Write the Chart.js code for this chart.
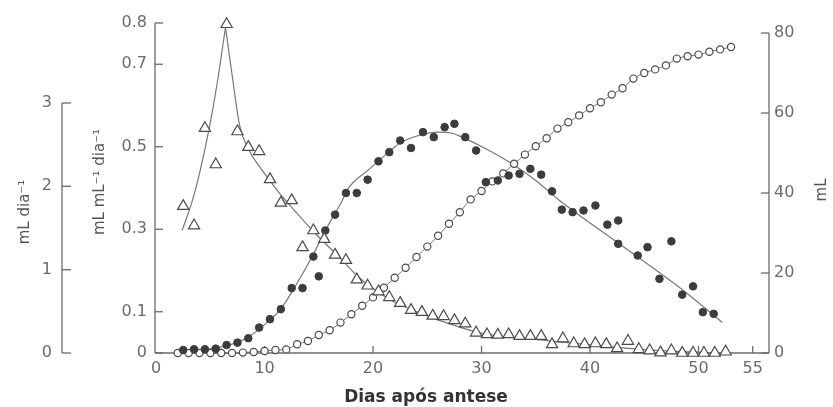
<!DOCTYPE html>
<html lang="pt">
  <head>
    <meta charset="UTF-8" />
    <title>Crescimento do fruto</title>
    <script src="https://cdn.jsdelivr.net/npm/chart.js"></script>
    <style>
      * {
        margin: 0;
        padding: 0;
        box-sizing: border-box;
      }

      body {
        background: #ffffff;
      }

      .chart-box {
        width: 833px;
        height: 407px;
      }
    </style>
  </head>
  <body>
    <div class="chart-box">
      <canvas id="growthChart"></canvas>
    </div>

    <script>
      // Volume (mL), open circles, right axis
      const volumeDays = [
        2, 3, 4, 5, 6, 7, 8, 9, 10, 11, 12, 13, 14, 15, 16, 17, 18, 19, 20, 21,
        22, 23, 24, 25, 26, 27, 28, 29, 30, 31, 32, 33, 34, 35, 36, 37, 38, 39,
        40, 41, 42, 43, 44, 45, 46, 47, 48, 49, 50, 51, 52, 53,
      ];
      const volumeML = [
        0, 0, 0, 0, 0, 0, 0.1, 0.25, 0.5, 0.75, 0.9, 2.2, 3.0, 4.5, 5.7, 7.6,
        9.7, 11.8, 13.9, 16.3, 18.8, 21.3, 24.0, 26.6, 29.3, 32.3, 35.2, 38.4,
        40.5, 42.9, 44.9, 47.3, 49.6, 51.7, 53.7, 56.1, 57.7, 59.4, 61.2, 62.7,
        64.6, 66.2, 68.6, 70.0, 70.9, 71.9, 73.6, 74.2, 74.6, 75.3, 75.9, 76.5,
      ];

      // Relative growth rate (mL mL-1 dia-1), triangles, inner left axis
      const rgrDays = [
        2.5, 3.5, 4.5, 5.5, 6.5, 7.5, 8.5, 9.5, 10.5, 11.5, 12.5, 13.5, 14.5,
        15.5, 16.5, 17.5, 18.5, 19.5, 20.5, 21.5, 22.5, 23.5, 24.5, 25.5, 26.5,
        27.5, 28.5, 29.5, 30.5, 31.5, 32.5, 33.5, 34.5, 35.5, 36.5, 37.5, 38.5,
        39.5, 40.5, 41.5, 42.5, 43.5, 44.5, 45.5, 46.5, 47.5, 48.5, 49.5, 50.5,
        51.5, 52.5,
      ];
      const rgrValues = [
        0.356, 0.309, 0.545, 0.457, 0.797, 0.537, 0.499, 0.489, 0.421, 0.364,
        0.37, 0.256, 0.297, 0.276, 0.238, 0.225, 0.178, 0.163, 0.149, 0.135,
        0.121, 0.104, 0.099, 0.09, 0.089, 0.079, 0.071, 0.049, 0.045, 0.044,
        0.045, 0.041, 0.041, 0.041, 0.021, 0.035, 0.023, 0.021, 0.023, 0.021,
        0.011, 0.029, 0.009, 0.006, 0.001, 0.006, 0, 0, 0, 0, 0.003,
      ];
      const rgrRiseDays = [2.4, 3.35, 4.0, 4.9, 5.65, 6.4];
      const rgrRiseValues = [0.297, 0.37, 0.435, 0.545, 0.657, 0.79];
      const rgrFallDays = [
        6.4, 7.05, 7.7, 8.5, 9.55, 10.6, 11.6, 12.6, 14.7, 16.9, 18.7, 21.8,
        24.2, 28.2, 30.4, 36.5, 42.7, 47.0, 52.0,
      ];
      const rgrFallValues = [
        0.79, 0.666, 0.552, 0.495, 0.451, 0.414, 0.38, 0.35, 0.289, 0.232,
        0.183, 0.126, 0.098, 0.061, 0.046, 0.029, 0.013, 0.005, 0.0,
      ];

      // Absolute growth rate (mL dia-1), filled circles, outer left axis
      const agrDays = [
        2.5, 3.5, 4.5, 5.5, 6.5, 7.5, 8.5, 9.5, 10.5, 11.5, 12.5, 13.5, 14.5,
        15.0, 15.6, 16.5, 17.5, 18.5, 19.5, 20.5, 21.5, 22.5, 23.5, 24.6, 25.6,
        26.6, 27.5, 28.5, 29.5, 30.4, 31.5, 32.5, 33.5, 34.5, 35.5, 36.5, 37.4,
        38.4, 39.4, 40.5, 41.6, 42.6, 42.6, 44.4, 45.3, 46.4, 47.5, 48.5, 49.5,
        50.4, 51.4,
      ];
      const agrValues = [
        0.036, 0.045, 0.045, 0.052, 0.096, 0.124, 0.177, 0.305, 0.406, 0.526,
        0.779, 0.779, 1.157, 0.92, 1.47, 1.66, 1.92, 1.92, 2.08, 2.3, 2.41,
        2.55, 2.46, 2.65, 2.59, 2.71, 2.75, 2.59, 2.43, 2.05, 2.07, 2.13, 2.15,
        2.21, 2.14, 1.94, 1.72, 1.69, 1.71, 1.77, 1.54, 1.59, 1.31, 1.17, 1.27,
        0.89, 1.34, 0.7, 0.8, 0.49, 0.47,
      ];
      const agrCurveDays = [
        2.1, 4.0, 6.4, 8.4, 10.4, 11.5, 12.6, 14.4, 15.6, 17.0, 17.8, 19.6,
        20.9, 22.5, 24.2, 26.0, 27.2, 28.2, 30.4, 32.8, 35.0, 37.1, 42.7, 48.8,
        52.2,
      ];
      const agrCurveValues = [
        0.024, 0.035, 0.084, 0.184, 0.386, 0.53, 0.75, 1.16, 1.47, 1.79, 1.99,
        2.2, 2.35, 2.52, 2.61, 2.65, 2.64, 2.59, 2.45, 2.27, 2.07, 1.84, 1.31,
        0.73, 0.365,
      ];

      // Tick labels
      const xTicks = [0, 10, 20, 30, 40, 50, 55];
      const rgrTicks = [0, 0.1, 0.3, 0.5, 0.7, 0.8];
      const agrTicks = [0, 1, 2, 3];
      const volumeTicks = [0, 20, 40, 60, 80];

      const toPoints = (xs, ys) => xs.map((x, i) => ({ x: x, y: ys[i] }));
      const setTicks = (list) => (scale) => {
        scale.ticks = list.map((v) => ({ value: v }));
      };

      const axisColor = "#6b6b6b";
      const markColor = "#4a4a4a";
      const tickFont = { family: "DejaVu Sans", size: 16 };

      // Axis lines, inward tick marks and axis titles
      const axisFrame = {
        id: "axisFrame",
        beforeDatasetsDraw(chart) {
          const { ctx, chartArea: a, scales } = chart;
          const line = (x1, y1, x2, y2) => {
            ctx.beginPath();
            ctx.moveTo(x1, y1);
            ctx.lineTo(x2, y2);
            ctx.stroke();
          };
          ctx.save();
          ctx.strokeStyle = axisColor;
          ctx.lineWidth = 1.3;

          // x axis
          line(a.left, a.bottom, a.right, a.bottom);
          xTicks.forEach((v) => {
            if (v === 0) return;
            const px = scales.x.getPixelForValue(v);
            line(px, a.bottom, px, a.bottom - 7);
          });

          // inner left axis
          const yr = scales.yRgr;
          line(a.left, yr.getPixelForValue(0), a.left, yr.getPixelForValue(0.8));
          rgrTicks.forEach((v) => {
            const py = yr.getPixelForValue(v);
            line(a.left, py, a.left + 8, py);
          });

          // outer left axis, drawn only from 0 to 3
          const ya = scales.yAgr;
          const ox = ya.right;
          line(ox, ya.getPixelForValue(0), ox, ya.getPixelForValue(3));
          agrTicks.forEach((v) => {
            const py = ya.getPixelForValue(v);
            line(ox, py, ox + 9, py);
          });

          // right axis
          const yv = scales.yVol;
          line(a.right, yv.getPixelForValue(0), a.right, yv.getPixelForValue(80));
          volumeTicks.forEach((v) => {
            const py = yv.getPixelForValue(v);
            line(a.right, py, a.right - 8, py);
          });

          // titles
          const vText = (text, x, y) => {
            ctx.save();
            ctx.translate(x, y);
            ctx.rotate(-Math.PI / 2);
            ctx.fillText(text, 0, 0);
            ctx.restore();
          };
          ctx.fillStyle = "#555555";
          ctx.textAlign = "center";
          ctx.textBaseline = "middle";
          ctx.font = '15px "DejaVu Sans"';
          vText("mL dia⁻¹", 25, 212);
          vText("mL mL⁻¹ dia⁻¹", 100, 182);
          vText("mL", 822, 190);
          ctx.fillStyle = "#333333";
          ctx.font = 'bold 17px "DejaVu Sans"';
          ctx.fillText("Dias após antese", 426, 398);
          ctx.restore();
        },
      };

      new Chart(document.getElementById("growthChart"), {
        type: "scatter",
        data: {
          datasets: [
            {
              label: "Taxa de crescimento relativo",
              data: toPoints(rgrDays, rgrValues),
              yAxisID: "yRgr",
              pointStyle: "triangle",
              pointRadius: 6.5,
              pointBackgroundColor: "#ffffff",
              pointBorderColor: markColor,
              pointBorderWidth: 1.2,
              clip: false,
              order: 1,
            },
            {
              label: "TCR ajuste (subida)",
              data: toPoints(rgrRiseDays, rgrRiseValues),
              yAxisID: "yRgr",
              showLine: true,
              pointRadius: 0,
              borderColor: "#777777",
              borderWidth: 1.2,
              cubicInterpolationMode: "monotone",
              clip: false,
              order: 3,
            },
            {
              label: "TCR ajuste (queda)",
              data: toPoints(rgrFallDays, rgrFallValues),
              yAxisID: "yRgr",
              showLine: true,
              pointRadius: 0,
              borderColor: "#777777",
              borderWidth: 1.2,
              cubicInterpolationMode: "monotone",
              clip: false,
              order: 3,
            },
            {
              label: "Taxa de crescimento absoluto",
              data: toPoints(agrDays, agrValues),
              yAxisID: "yAgr",
              pointStyle: "circle",
              pointRadius: 3.8,
              pointBackgroundColor: "#3c3c3c",
              pointBorderColor: "#3c3c3c",
              pointBorderWidth: 1,
              clip: false,
              order: 1,
            },
            {
              label: "TCA ajuste",
              data: toPoints(agrCurveDays, agrCurveValues),
              yAxisID: "yAgr",
              showLine: true,
              pointRadius: 0,
              borderColor: "#777777",
              borderWidth: 1.2,
              cubicInterpolationMode: "monotone",
              clip: false,
              order: 3,
            },
            {
              label: "Volume",
              data: toPoints(volumeDays, volumeML),
              yAxisID: "yVol",
              showLine: true,
              borderColor: "#777777",
              borderWidth: 1,
              cubicInterpolationMode: "monotone",
              pointStyle: "circle",
              pointRadius: 3.6,
              pointBackgroundColor: "#ffffff",
              pointBorderColor: markColor,
              pointBorderWidth: 1.2,
              clip: false,
              order: 2,
            },
          ],
        },
        options: {
          responsive: true,
          maintainAspectRatio: false,
          animation: false,
          layout: { padding: { top: 23, left: 0, right: 0, bottom: 0 } },
          scales: {
            x: {
              type: "linear",
              min: -0.1,
              max: 56.5,
              afterBuildTicks: setTicks(xTicks),
              afterFit: (s) => {
                s.height = 54;
              },
              grid: { display: false, drawTicks: false },
              border: { display: false },
              ticks: {
                autoSkip: false,
                maxRotation: 0,
                padding: 6,
                color: axisColor,
                font: tickFont,
                callback: (v) => String(v),
              },
            },
            yRgr: {
              position: "left",
              weight: 0,
              min: 0,
              max: 0.8,
              afterBuildTicks: setTicks(rgrTicks),
              afterFit: (s) => {
                s.width = 93;
              },
              grid: { display: false, drawTicks: false },
              border: { display: false },
              ticks: {
                autoSkip: false,
                padding: 8,
                color: axisColor,
                font: tickFont,
                callback: (v) => (v === 0 ? "0" : v.toFixed(1)),
              },
            },
            yAgr: {
              position: "left",
              weight: 1,
              min: 0,
              max: 3.96,
              afterBuildTicks: setTicks(agrTicks),
              afterFit: (s) => {
                s.width = 62;
              },
              grid: { display: false, drawTicks: false },
              border: { display: false },
              ticks: {
                autoSkip: false,
                padding: 10,
                color: axisColor,
                font: tickFont,
                callback: (v) => String(v),
              },
            },
            yVol: {
              position: "right",
              min: 0,
              max: 82.5,
              afterBuildTicks: setTicks(volumeTicks),
              afterFit: (s) => {
                s.width = 64;
              },
              grid: { display: false, drawTicks: false },
              border: { display: false },
              ticks: {
                autoSkip: false,
                padding: 5,
                color: axisColor,
                font: tickFont,
                callback: (v) => String(v),
              },
            },
          },
          plugins: {
            legend: { display: false },
            tooltip: { enabled: false },
          },
        },
        plugins: [axisFrame],
      });
    </script>
  </body>
</html>
